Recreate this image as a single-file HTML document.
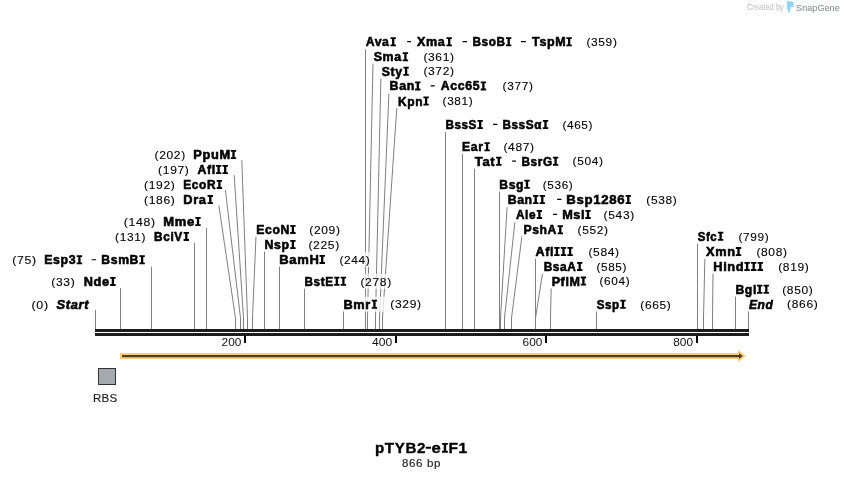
<!DOCTYPE html><html><head><meta charset="utf-8"><style>html,body{margin:0;padding:0;background:#fff;width:844px;height:479px;overflow:hidden}svg{display:block;will-change:transform}text{font-family:"Liberation Sans",sans-serif}</style></head><body>
<svg width="844" height="479" viewBox="0 0 844 479">
<rect width="844" height="479" fill="#fff"/>
<g stroke="#7f7f7f" stroke-width="1" fill="none"><path d="M95.5 329V310"/><path d="M120.5 329V288"/><path d="M151.5 329V266.7"/><path d="M194.5 329V242.8"/><path d="M206.5 329V227.9"/><path d="M235.5 329V318L218.8 205.5"/><path d="M240.5 329V318L225.4 190.1"/><path d="M243.5 329V318L234.2 175.2"/><path d="M247.5 329V318L241.8 160.2"/><path d="M252.5 329V318L256 235.8"/><path d="M264.5 329V250.7"/><path d="M279.5 329V266.1"/><path d="M304.5 329V288.2"/><path d="M343.5 329V310.1"/><path d="M365.5 329V49.2"/><path d="M367.5 329V318L373 62.6"/><path d="M375.5 329V318L380.9 77.6"/><path d="M379.5 329V318L388.9 93.5"/><path d="M382.5 329V318L396.8 107.7"/><path d="M445.5 329V132.1"/><path d="M462.5 329V152.9"/><path d="M474.5 329V168.4"/><path d="M499.5 329V190.5"/><path d="M500.5 329V318L507.1 207.3"/><path d="M504.5 329V318L514.9 222.2"/><path d="M511.5 329V318L522 235.7"/><path d="M535.5 329V258.1"/><path d="M535.5 329V318L542.6 272.8"/><path d="M550.5 329V318L551.2 287.7"/><path d="M596.5 329V310.1"/><path d="M697.5 329V243.3"/><path d="M703.5 329V318L704.9 257.7"/><path d="M712.5 329V318L713 272.6"/><path d="M735.5 329V296"/><path d="M748.5 329V310.3"/></g>
<g fill="#fff" fill-opacity="0.72"><rect x="29.6" y="297.1" width="61.2" height="15"/><rect x="49.4" y="273.9" width="68.2" height="15"/><rect x="10.4" y="252.3" width="136.4" height="15"/><rect x="113.2" y="228.9" width="77.8" height="15"/><rect x="121.9" y="214" width="80.8" height="15"/><rect x="142.1" y="192.1" width="72.9" height="15"/><rect x="142.1" y="176.9" width="82" height="15"/><rect x="156.2" y="162" width="73.7" height="15"/><rect x="152.6" y="147" width="85.6" height="15"/><rect x="254.3" y="221.9" width="86.9" height="15"/><rect x="262.6" y="237" width="77.8" height="15"/><rect x="277.5" y="251.9" width="93.5" height="15"/><rect x="302.6" y="273.8" width="89.8" height="15"/><rect x="341.6" y="296.7" width="80.6" height="15"/><rect x="363.4" y="34.2" width="254.7" height="15"/><rect x="371.4" y="49.2" width="83.8" height="15"/><rect x="379.4" y="63.7" width="75.8" height="15"/><rect x="387.7" y="78.4" width="146.4" height="15"/><rect x="396.1" y="93.5" width="77.8" height="15"/><rect x="443.5" y="117" width="150.2" height="15"/><rect x="460.2" y="139.2" width="75.1" height="15"/><rect x="472.3" y="153.7" width="131.9" height="15"/><rect x="497.5" y="176.8" width="76.5" height="15"/><rect x="505.8" y="192" width="172.2" height="15"/><rect x="513.6" y="206.9" width="121.8" height="15"/><rect x="521.6" y="222.3" width="87.7" height="15"/><rect x="533.1" y="244" width="87.2" height="15"/><rect x="541.8" y="258.9" width="85.9" height="15"/><rect x="549.8" y="273.6" width="81" height="15"/><rect x="594.5" y="296.8" width="77.5" height="15"/><rect x="695.5" y="228.8" width="74.5" height="15"/><rect x="703.5" y="244.1" width="84.7" height="15"/><rect x="711.4" y="258.9" width="98.7" height="15"/><rect x="733.6" y="281.8" width="80.4" height="15"/><rect x="746.5" y="296.7" width="72.5" height="15"/></g>
<g fill="#000"><text x="31.5" y="308.8" font-size="11" stroke="#000" stroke-width="0.1" letter-spacing="0.6" textLength="17.28" lengthAdjust="spacingAndGlyphs">(0)</text><text x="56.49" y="309.1" font-size="12" font-weight="bold" font-style="italic" stroke="#000" stroke-width="0.55" letter-spacing="0.6" textLength="32.6" lengthAdjust="spacingAndGlyphs">Start</text><text x="51.33" y="285.6" font-size="11" stroke="#000" stroke-width="0.1" letter-spacing="0.6" textLength="24" lengthAdjust="spacingAndGlyphs">(33)</text><text x="83.76" y="285.9" font-size="12" font-weight="bold" stroke="#000" stroke-width="0.55" letter-spacing="0.6" textLength="25.96" lengthAdjust="spacingAndGlyphs">Nde</text><text x="12.31" y="264" font-size="11" stroke="#000" stroke-width="0.1" letter-spacing="0.6" textLength="24.44" lengthAdjust="spacingAndGlyphs">(75)</text><text x="44.18" y="264.3" font-size="12" font-weight="bold" stroke="#000" stroke-width="0.55" letter-spacing="0.6" textLength="32.03" lengthAdjust="spacingAndGlyphs">Esp3</text><text x="101.39" y="264.3" font-size="12" font-weight="bold" stroke="#000" stroke-width="0.55" letter-spacing="0.6" textLength="37.61" lengthAdjust="spacingAndGlyphs">BsmB</text><text x="115.13" y="240.6" font-size="11" stroke="#000" stroke-width="0.1" letter-spacing="0.6" textLength="31.1" lengthAdjust="spacingAndGlyphs">(131)</text><text x="154.11" y="240.9" font-size="12" font-weight="bold" stroke="#000" stroke-width="0.55" letter-spacing="0.6" textLength="28.64" lengthAdjust="spacingAndGlyphs">BciV</text><text x="123.81" y="225.7" font-size="11" stroke="#000" stroke-width="0.1" letter-spacing="0.6" textLength="31.85" lengthAdjust="spacingAndGlyphs">(148)</text><text x="163.23" y="226" font-size="12" font-weight="bold" stroke="#000" stroke-width="0.55" letter-spacing="0.6" textLength="31.61" lengthAdjust="spacingAndGlyphs">Mme</text><text x="144.02" y="203.8" font-size="11" stroke="#000" stroke-width="0.1" letter-spacing="0.6" textLength="31.42" lengthAdjust="spacingAndGlyphs">(186)</text><text x="183.25" y="204.1" font-size="12" font-weight="bold" stroke="#000" stroke-width="0.55" letter-spacing="0.6" textLength="23.33" lengthAdjust="spacingAndGlyphs">Dra</text><text x="144.02" y="188.6" font-size="11" stroke="#000" stroke-width="0.1" letter-spacing="0.6" textLength="31.42" lengthAdjust="spacingAndGlyphs">(192)</text><text x="183.31" y="188.9" font-size="12" font-weight="bold" stroke="#000" stroke-width="0.55" letter-spacing="0.6" textLength="32.76" lengthAdjust="spacingAndGlyphs">EcoR</text><text x="158.12" y="173.7" font-size="11" stroke="#000" stroke-width="0.1" letter-spacing="0.6" textLength="31.42" lengthAdjust="spacingAndGlyphs">(197)</text><text x="197.54" y="174" font-size="12" font-weight="bold" stroke="#000" stroke-width="0.55" letter-spacing="0.6" textLength="18.24" lengthAdjust="spacingAndGlyphs">Afl</text><text x="154.52" y="158.7" font-size="11" stroke="#000" stroke-width="0.1" letter-spacing="0.6" textLength="31.31" lengthAdjust="spacingAndGlyphs">(202)</text><text x="193.25" y="159" font-size="12" font-weight="bold" stroke="#000" stroke-width="0.55" letter-spacing="0.6" textLength="37.47" lengthAdjust="spacingAndGlyphs">PpuM</text><text x="256.18" y="233.9" font-size="12" font-weight="bold" stroke="#000" stroke-width="0.55" letter-spacing="0.6" textLength="33.85" lengthAdjust="spacingAndGlyphs">EcoN</text><text x="309.22" y="233.6" font-size="11" stroke="#000" stroke-width="0.1" letter-spacing="0.6" textLength="31.42" lengthAdjust="spacingAndGlyphs">(209)</text><text x="264.48" y="249" font-size="12" font-weight="bold" stroke="#000" stroke-width="0.55" letter-spacing="0.6" textLength="25.26" lengthAdjust="spacingAndGlyphs">Nsp</text><text x="308.42" y="248.7" font-size="11" stroke="#000" stroke-width="0.1" letter-spacing="0.6" textLength="31.42" lengthAdjust="spacingAndGlyphs">(225)</text><text x="279.34" y="263.9" font-size="12" font-weight="bold" stroke="#000" stroke-width="0.55" letter-spacing="0.6" textLength="40.09" lengthAdjust="spacingAndGlyphs">BamH</text><text x="339.43" y="263.6" font-size="11" stroke="#000" stroke-width="0.1" letter-spacing="0.6" textLength="30.99" lengthAdjust="spacingAndGlyphs">(244)</text><text x="304.52" y="285.8" font-size="12" font-weight="bold" stroke="#000" stroke-width="0.55" letter-spacing="0.6" textLength="29.02" lengthAdjust="spacingAndGlyphs">BstE</text><text x="360.42" y="285.5" font-size="11" stroke="#000" stroke-width="0.1" letter-spacing="0.6" textLength="31.42" lengthAdjust="spacingAndGlyphs">(278)</text><text x="343.45" y="308.7" font-size="12" font-weight="bold" stroke="#000" stroke-width="0.55" letter-spacing="0.6" textLength="27.49" lengthAdjust="spacingAndGlyphs">Bmr</text><text x="390.32" y="308.4" font-size="11" stroke="#000" stroke-width="0.1" letter-spacing="0.6" textLength="31.31" lengthAdjust="spacingAndGlyphs">(329)</text><text x="365.72" y="46.2" font-size="12" font-weight="bold" stroke="#000" stroke-width="0.55" letter-spacing="0.6" textLength="23.73" lengthAdjust="spacingAndGlyphs">Ava</text><text x="417.01" y="46.2" font-size="12" font-weight="bold" stroke="#000" stroke-width="0.55" letter-spacing="0.6" textLength="28.45" lengthAdjust="spacingAndGlyphs">Xma</text><text x="472.41" y="46.2" font-size="12" font-weight="bold" stroke="#000" stroke-width="0.55" letter-spacing="0.6" textLength="33.15" lengthAdjust="spacingAndGlyphs">BsoB</text><text x="532.05" y="46.2" font-size="12" font-weight="bold" stroke="#000" stroke-width="0.55" letter-spacing="0.6" textLength="34.21" lengthAdjust="spacingAndGlyphs">TspM</text><text x="586.43" y="45.9" font-size="11" stroke="#000" stroke-width="0.1" letter-spacing="0.6" textLength="31.1" lengthAdjust="spacingAndGlyphs">(359)</text><text x="373.65" y="61.2" font-size="12" font-weight="bold" stroke="#000" stroke-width="0.55" letter-spacing="0.6" textLength="28" lengthAdjust="spacingAndGlyphs">Sma</text><text x="423.43" y="60.9" font-size="11" stroke="#000" stroke-width="0.1" letter-spacing="0.6" textLength="31.21" lengthAdjust="spacingAndGlyphs">(361)</text><text x="381.69" y="75.7" font-size="12" font-weight="bold" stroke="#000" stroke-width="0.55" letter-spacing="0.6" textLength="20.87" lengthAdjust="spacingAndGlyphs">Sty</text><text x="423.43" y="75.4" font-size="11" stroke="#000" stroke-width="0.1" letter-spacing="0.6" textLength="31.21" lengthAdjust="spacingAndGlyphs">(372)</text><text x="389.58" y="90.4" font-size="12" font-weight="bold" stroke="#000" stroke-width="0.55" letter-spacing="0.6" textLength="25.31" lengthAdjust="spacingAndGlyphs">Ban</text><text x="440.82" y="90.4" font-size="12" font-weight="bold" stroke="#000" stroke-width="0.55" letter-spacing="0.6" textLength="39.29" lengthAdjust="spacingAndGlyphs">Acc65</text><text x="502.63" y="90.1" font-size="11" stroke="#000" stroke-width="0.1" letter-spacing="0.6" textLength="30.88" lengthAdjust="spacingAndGlyphs">(377)</text><text x="398" y="105.5" font-size="12" font-weight="bold" stroke="#000" stroke-width="0.55" letter-spacing="0.6" textLength="25.15" lengthAdjust="spacingAndGlyphs">Kpn</text><text x="442.64" y="105.2" font-size="11" stroke="#000" stroke-width="0.1" letter-spacing="0.6" textLength="30.67" lengthAdjust="spacingAndGlyphs">(381)</text><text x="445.42" y="129" font-size="12" font-weight="bold" stroke="#000" stroke-width="0.55" letter-spacing="0.6" textLength="31.56" lengthAdjust="spacingAndGlyphs">BssS</text><text x="502.42" y="129" font-size="12" font-weight="bold" stroke="#000" stroke-width="0.55" letter-spacing="0.6" textLength="39.57" lengthAdjust="spacingAndGlyphs">BssSα</text><text x="562.44" y="128.7" font-size="11" stroke="#000" stroke-width="0.1" letter-spacing="0.6" textLength="30.67" lengthAdjust="spacingAndGlyphs">(465)</text><text x="462.09" y="151.2" font-size="12" font-weight="bold" stroke="#000" stroke-width="0.55" letter-spacing="0.6" textLength="21.51" lengthAdjust="spacingAndGlyphs">Ear</text><text x="503.42" y="150.9" font-size="11" stroke="#000" stroke-width="0.1" letter-spacing="0.6" textLength="31.31" lengthAdjust="spacingAndGlyphs">(487)</text><text x="474.85" y="165.7" font-size="12" font-weight="bold" stroke="#000" stroke-width="0.55" letter-spacing="0.6" textLength="20.49" lengthAdjust="spacingAndGlyphs">Tat</text><text x="521.52" y="165.7" font-size="12" font-weight="bold" stroke="#000" stroke-width="0.55" letter-spacing="0.6" textLength="31.11" lengthAdjust="spacingAndGlyphs">BsrG</text><text x="572.53" y="165.4" font-size="11" stroke="#000" stroke-width="0.1" letter-spacing="0.6" textLength="31.1" lengthAdjust="spacingAndGlyphs">(504)</text><text x="499.39" y="188.8" font-size="12" font-weight="bold" stroke="#000" stroke-width="0.55" letter-spacing="0.6" textLength="24.74" lengthAdjust="spacingAndGlyphs">Bsg</text><text x="542.74" y="188.5" font-size="11" stroke="#000" stroke-width="0.1" letter-spacing="0.6" textLength="30.67" lengthAdjust="spacingAndGlyphs">(536)</text><text x="507.68" y="204" font-size="12" font-weight="bold" stroke="#000" stroke-width="0.55" letter-spacing="0.6" textLength="25.09" lengthAdjust="spacingAndGlyphs">Ban</text><text x="566.32" y="204" font-size="12" font-weight="bold" stroke="#000" stroke-width="0.55" letter-spacing="0.6" textLength="58.85" lengthAdjust="spacingAndGlyphs">Bsp1286</text><text x="646.33" y="203.7" font-size="11" stroke="#000" stroke-width="0.1" letter-spacing="0.6" textLength="31.1" lengthAdjust="spacingAndGlyphs">(538)</text><text x="515.97" y="218.9" font-size="12" font-weight="bold" stroke="#000" stroke-width="0.55" letter-spacing="0.6" textLength="20.18" lengthAdjust="spacingAndGlyphs">Ale</text><text x="562.16" y="218.9" font-size="12" font-weight="bold" stroke="#000" stroke-width="0.55" letter-spacing="0.6" textLength="23.09" lengthAdjust="spacingAndGlyphs">Msl</text><text x="603.63" y="218.6" font-size="11" stroke="#000" stroke-width="0.1" letter-spacing="0.6" textLength="31.21" lengthAdjust="spacingAndGlyphs">(543)</text><text x="523.49" y="234.3" font-size="12" font-weight="bold" stroke="#000" stroke-width="0.55" letter-spacing="0.6" textLength="33.51" lengthAdjust="spacingAndGlyphs">PshA</text><text x="577.63" y="234" font-size="11" stroke="#000" stroke-width="0.1" letter-spacing="0.6" textLength="31.1" lengthAdjust="spacingAndGlyphs">(552)</text><text x="535.43" y="256" font-size="12" font-weight="bold" stroke="#000" stroke-width="0.55" letter-spacing="0.6" textLength="18.69" lengthAdjust="spacingAndGlyphs">Afl</text><text x="588.42" y="255.7" font-size="11" stroke="#000" stroke-width="0.1" letter-spacing="0.6" textLength="31.31" lengthAdjust="spacingAndGlyphs">(584)</text><text x="543.71" y="270.9" font-size="12" font-weight="bold" stroke="#000" stroke-width="0.55" letter-spacing="0.6" textLength="32.75" lengthAdjust="spacingAndGlyphs">BsaA</text><text x="596.44" y="270.6" font-size="11" stroke="#000" stroke-width="0.1" letter-spacing="0.6" textLength="30.67" lengthAdjust="spacingAndGlyphs">(585)</text><text x="551.67" y="285.6" font-size="12" font-weight="bold" stroke="#000" stroke-width="0.55" letter-spacing="0.6" textLength="28.91" lengthAdjust="spacingAndGlyphs">PflM</text><text x="599.54" y="285.3" font-size="11" stroke="#000" stroke-width="0.1" letter-spacing="0.6" textLength="30.67" lengthAdjust="spacingAndGlyphs">(604)</text><text x="596.82" y="308.8" font-size="12" font-weight="bold" stroke="#000" stroke-width="0.55" letter-spacing="0.6" textLength="22.95" lengthAdjust="spacingAndGlyphs">Ssp</text><text x="640.33" y="308.5" font-size="11" stroke="#000" stroke-width="0.1" letter-spacing="0.6" textLength="31.1" lengthAdjust="spacingAndGlyphs">(665)</text><text x="697.82" y="240.8" font-size="12" font-weight="bold" stroke="#000" stroke-width="0.55" letter-spacing="0.6" textLength="19.45" lengthAdjust="spacingAndGlyphs">Sfc</text><text x="738.53" y="240.5" font-size="11" stroke="#000" stroke-width="0.1" letter-spacing="0.6" textLength="30.88" lengthAdjust="spacingAndGlyphs">(799)</text><text x="706.01" y="256.1" font-size="12" font-weight="bold" stroke="#000" stroke-width="0.55" letter-spacing="0.6" textLength="29.64" lengthAdjust="spacingAndGlyphs">Xmn</text><text x="756.43" y="255.8" font-size="11" stroke="#000" stroke-width="0.1" letter-spacing="0.6" textLength="31.21" lengthAdjust="spacingAndGlyphs">(808)</text><text x="713.25" y="270.9" font-size="12" font-weight="bold" stroke="#000" stroke-width="0.55" letter-spacing="0.6" textLength="31.07" lengthAdjust="spacingAndGlyphs">Hind</text><text x="778.22" y="270.6" font-size="11" stroke="#000" stroke-width="0.1" letter-spacing="0.6" textLength="31.31" lengthAdjust="spacingAndGlyphs">(819)</text><text x="735.49" y="293.8" font-size="12" font-weight="bold" stroke="#000" stroke-width="0.55" letter-spacing="0.6" textLength="21.39" lengthAdjust="spacingAndGlyphs">Bgl</text><text x="782.23" y="293.5" font-size="11" stroke="#000" stroke-width="0.1" letter-spacing="0.6" textLength="31.21" lengthAdjust="spacingAndGlyphs">(850)</text><text x="748.9" y="308.7" font-size="12" font-weight="bold" font-style="italic" stroke="#000" stroke-width="0.55" letter-spacing="0.6" textLength="24.57" lengthAdjust="spacingAndGlyphs">End</text><text x="787.12" y="308.4" font-size="11" stroke="#000" stroke-width="0.1" letter-spacing="0.6" textLength="31.31" lengthAdjust="spacingAndGlyphs">(866)</text></g>
<path fill="#000" d="M110.2 276.9H115.6V278.7H114.05V284.1H115.6V285.9H110.2V284.1H111.75V278.7H110.2ZM76.7 255.3H82.1V257.1H80.55V262.5H82.1V264.3H76.7V262.5H78.25V257.1H76.7ZM91.65 259.15H96.15V260.35H91.65ZM139.4 255.3H144.8V257.1H143.25V262.5H144.8V264.3H139.4V262.5H140.95V257.1H139.4ZM183.6 231.9H189V233.7H187.45V239.1H189V240.9H183.6V239.1H185.15V233.7H183.6ZM195.3 217H200.7V218.8H199.15V224.2H200.7V226H195.3V224.2H196.85V218.8H195.3ZM207.6 195.1H213V196.9H211.45V202.3H213V204.1H207.6V202.3H209.15V196.9H207.6ZM216.7 179.9H222.1V181.7H220.55V187.1H222.1V188.9H216.7V187.1H218.25V181.7H216.7ZM215.9 165H221.3V166.8H219.75V172.2H221.3V174H215.9V172.2H217.45V166.8H215.9ZM222.5 165H227.9V166.8H226.35V172.2H227.9V174H222.5V172.2H224.05V166.8H222.5ZM230.8 150H236.2V151.8H234.65V157.2H236.2V159H230.8V157.2H232.35V151.8H230.8ZM290.2 224.9H295.6V226.7H294.05V232.1H295.6V233.9H290.2V232.1H291.75V226.7H290.2ZM290.2 240H295.6V241.8H294.05V247.2H295.6V249H290.2V247.2H291.75V241.8H290.2ZM319.5 254.9H324.9V256.7H323.35V262.1H324.9V263.9H319.5V262.1H321.05V256.7H319.5ZM334.1 276.8H339.5V278.6H337.95V284H339.5V285.8H334.1V284H335.65V278.6H334.1ZM340.7 276.8H346.1V278.6H344.55V284H346.1V285.8H340.7V284H342.25V278.6H340.7ZM371.7 299.7H377.1V301.5H375.55V306.9H377.1V308.7H371.7V306.9H373.25V301.5H371.7ZM390.5 37.2H395.9V39H394.35V44.4H395.9V46.2H390.5V44.4H392.05V39H390.5ZM407.25 41.05H410.95V42.25H407.25ZM446.5 37.2H451.9V39H450.35V44.4H451.9V46.2H446.5V44.4H448.05V39H446.5ZM462.65 41.05H466.95V42.25H462.65ZM506 37.2H511.4V39H509.85V44.4H511.4V46.2H506V44.4H507.55V39H506ZM521.05 41.05H525.85V42.25H521.05ZM566.4 37.2H571.8V39H570.25V44.4H571.8V46.2H566.4V44.4H567.95V39H566.4ZM402.7 52.2H408.1V54H406.55V59.4H408.1V61.2H402.7V59.4H404.25V54H402.7ZM403.4 66.7H408.8V68.5H407.25V73.9H408.8V75.7H403.4V73.9H404.95V68.5H403.4ZM415.1 81.4H420.5V83.2H418.95V88.6H420.5V90.4H415.1V88.6H416.65V83.2H415.1ZM430.65 85.25H434.75V86.45H430.65ZM480.7 81.4H486.1V83.2H484.55V88.6H486.1V90.4H480.7V88.6H482.25V83.2H480.7ZM423.4 96.5H428.8V98.3H427.25V103.7H428.8V105.5H423.4V103.7H424.95V98.3H423.4ZM477.5 120H482.9V121.8H481.35V127.2H482.9V129H477.5V127.2H479.05V121.8H477.5ZM493.05 123.85H497.35V125.05H493.05ZM542.8 120H548.2V121.8H546.65V127.2H548.2V129H542.8V127.2H544.35V121.8H542.8ZM484.4 142.2H489.8V144H488.25V149.4H489.8V151.2H484.4V149.4H485.95V144H484.4ZM496.1 156.7H501.5V158.5H499.95V163.9H501.5V165.7H496.1V163.9H497.65V158.5H496.1ZM512.15 160.55H515.95V161.75H512.15ZM552.9 156.7H558.3V158.5H556.75V163.9H558.3V165.7H552.9V163.9H554.45V158.5H552.9ZM524.3 179.8H529.7V181.6H528.15V187H529.7V188.8H524.3V187H525.85V181.6H524.3ZM533 195H538.4V196.8H536.85V202.2H538.4V204H533V202.2H534.55V196.8H533ZM539.6 195H545V196.8H543.45V202.2H545V204H539.6V202.2H541.15V196.8H539.6ZM557.15 198.85H561.45V200.05H557.15ZM625.6 195H631V196.8H629.45V202.2H631V204H625.6V202.2H627.15V196.8H625.6ZM536.7 209.9H542.1V211.7H540.55V217.1H542.1V218.9H536.7V217.1H538.25V211.7H536.7ZM553.15 213.75H557.15V214.95H553.15ZM585.3 209.9H590.7V211.7H589.15V217.1H590.7V218.9H585.3V217.1H586.85V211.7H585.3ZM557.6 225.3H563V227.1H561.45V232.5H563V234.3H557.6V232.5H559.15V227.1H557.6ZM554.2 247H559.6V248.8H558.05V254.2H559.6V256H554.2V254.2H555.75V248.8H554.2ZM560.8 247H566.2V248.8H564.65V254.2H566.2V256H560.8V254.2H562.35V248.8H560.8ZM567.4 247H572.8V248.8H571.25V254.2H572.8V256H567.4V254.2H568.95V248.8H567.4ZM577 261.9H582.4V263.7H580.85V269.1H582.4V270.9H577V269.1H578.55V263.7H577ZM580.7 276.6H586.1V278.4H584.55V283.8H586.1V285.6H580.7V283.8H582.25V278.4H580.7ZM620.3 299.8H625.7V301.6H624.15V307H625.7V308.8H620.3V307H621.85V301.6H620.3ZM717.9 231.8H723.3V233.6H721.75V239H723.3V240.8H717.9V239H719.45V233.6H717.9ZM735.8 247.1H741.2V248.9H739.65V254.3H741.2V256.1H735.8V254.3H737.35V248.9H735.8ZM744.4 261.9H749.8V263.7H748.25V269.1H749.8V270.9H744.4V269.1H745.95V263.7H744.4ZM751 261.9H756.4V263.7H754.85V269.1H756.4V270.9H751V269.1H752.55V263.7H751ZM757.6 261.9H763V263.7H761.45V269.1H763V270.9H757.6V269.1H759.15V263.7H757.6ZM757 284.8H762.4V286.6H760.85V292H762.4V293.8H757V292H758.55V286.6H757ZM763.6 284.8H769V286.6H767.45V292H769V293.8H763.6V292H765.15V286.6H763.6Z"/>
<rect x="95" y="329" width="654" height="3" fill="#1c1c1c"/><rect x="95" y="333" width="654" height="3" fill="#1c1c1c"/>
<rect x="244" y="336" width="2" height="7" fill="#000"/>
<text x="221.6" y="345.8" font-size="11" textLength="19.7" lengthAdjust="spacingAndGlyphs" fill="#111">200</text>
<rect x="395" y="336" width="2" height="7" fill="#000"/>
<text x="372.1" y="345.8" font-size="11" textLength="20.2" lengthAdjust="spacingAndGlyphs" fill="#111">400</text>
<rect x="545" y="336" width="2" height="7" fill="#000"/>
<text x="522.6" y="345.8" font-size="11" textLength="19.7" lengthAdjust="spacingAndGlyphs" fill="#111">600</text>
<rect x="696" y="336" width="2" height="7" fill="#000"/>
<text x="673.2" y="345.8" font-size="11" textLength="19.8" lengthAdjust="spacingAndGlyphs" fill="#111">800</text>
<rect x="120" y="353" width="620" height="6" fill="#fdcb78"/>
<path d="M738 350L746 356L738 362Z" fill="#fdcb78"/>
<rect x="122" y="355" width="618" height="2.2" fill="#4b3c22"/>
<path d="M739 353.2L742.8 356.1L739 359Z" fill="#4b3c22"/>
<rect x="98.5" y="368.5" width="17" height="16" fill="#a4a9b0" stroke="#333" stroke-width="1"/>
<text x="92.96" y="401.5" font-size="11.5" stroke="#1a1a1a" stroke-width="0.12" letter-spacing="0.3" textLength="24.66" lengthAdjust="spacingAndGlyphs" fill="#1a1a1a">RBS</text>
<text x="374.97" y="452.66" font-size="14" font-weight="bold" stroke="#000" stroke-width="0.35" letter-spacing="0.6" textLength="51.11" lengthAdjust="spacingAndGlyphs" fill="#000">pTYB2</text>
<text x="431.44" y="452.66" font-size="14" font-weight="bold" stroke="#000" stroke-width="0.35" letter-spacing="0.6" textLength="9.95" lengthAdjust="spacingAndGlyphs" fill="#000">e</text>
<text x="448.46" y="452.66" font-size="14" font-weight="bold" stroke="#000" stroke-width="0.35" letter-spacing="0.6" textLength="19.45" lengthAdjust="spacingAndGlyphs" fill="#000">F1</text>
<text x="402.07" y="466.7" font-size="11" stroke="#1e1e1e" stroke-width="0.15" letter-spacing="0.6" textLength="21.08" lengthAdjust="spacingAndGlyphs" fill="#1e1e1e">866</text>
<text x="426.95" y="466.7" font-size="11" stroke="#1e1e1e" stroke-width="0.15" letter-spacing="0.6" textLength="14.19" lengthAdjust="spacingAndGlyphs" fill="#1e1e1e">bp</text>
<path fill="#000" d="M425.7 446.8H431V448.75H425.7Z M442 442.9H447.9V444.7H446.2V450.86H447.9V452.66H442V450.86H443.7V444.7H442Z"/>
<text x="746.9" y="10.4" font-size="8.2" textLength="37" lengthAdjust="spacingAndGlyphs" fill="#bdbdbd">Created by</text>
<path d="M786.3 1.3H791.3L793.7 2.3V6.8H791.1L789.4 12.8H788.2L786.9 7V2.6Z" fill="#92d4f7"/>
<text x="796.1" y="10.5" font-size="9.5" textLength="43.7" lengthAdjust="spacingAndGlyphs" fill="#8c9197" stroke="#8c9197" stroke-width="0.08">SnapGene</text>
</svg></body></html>
